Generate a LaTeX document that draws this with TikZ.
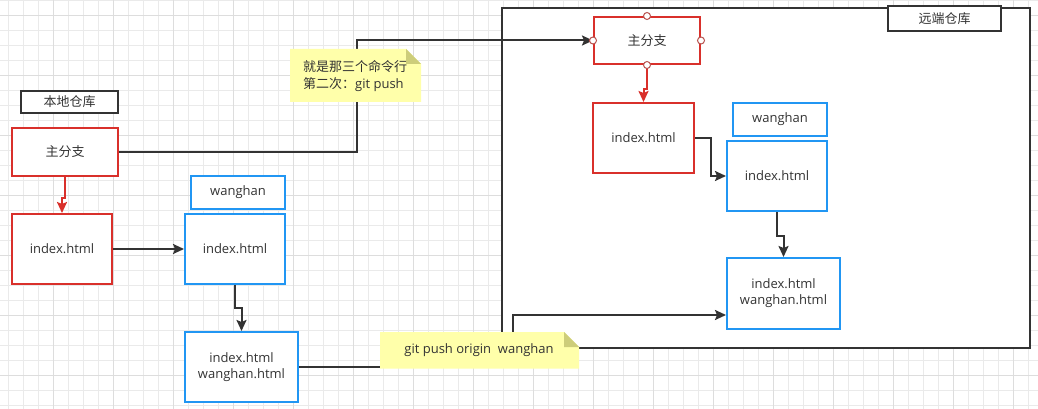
\documentclass[tikz,border=0pt]{standalone}
\usepackage{fontspec}
\setmainfont{Open Sans}
\newfontfamily\cjk{Noto Sans CJK SC}
\usetikzlibrary{arrows.meta,calc}

\definecolor{ink}{HTML}{333333}
\definecolor{redline}{HTML}{D9302B}
\definecolor{blueline}{HTML}{2196F3}
\definecolor{notefill}{HTML}{FFFFAA}
\definecolor{notefold}{HTML}{CDCD7A}
\definecolor{gridlight}{HTML}{EAEAEA}
\definecolor{gridheavy}{HTML}{DDDDDD}
\definecolor{portred}{HTML}{B85450}

\tikzset{
  box/.style={draw, line width=2pt, fill=white, inner sep=0pt, align=center, text=ink},
  redbox/.style={box, draw=redline},
  bluebox/.style={box, draw=blueline},
  blackbox/.style={box, draw=ink},
  link/.style={draw=ink, line width=2pt, -{Stealth[length=11pt,width=10pt,inset=2pt]}},
  redlink/.style={link, draw=redline},
  notebody/.style={fill=notefill},
  notecorner/.style={fill=notefold},
  port/.style={draw=portred, fill=white, line width=1pt},
  gridline/.style={line width=1pt},
}

\begin{document}
\begin{tikzpicture}[x=1pt, y=-1pt, font=\fontsize{13}{17}\selectfont]
\useasboundingbox (0,0) rectangle (1038,409);
\fill[white] (0,0) rectangle (1038,409);

% background grid
\foreach \x in {8.5,23.5,...,1028.5} \draw[gridline, gridlight] (\x,0) -- (\x,409);
\foreach \y in {0.5,15.5,...,405.5} \draw[gridline, gridlight] (0,\y) -- (1038,\y);
\foreach \x in {53.5,113.5,...,1013.5} \draw[gridline, gridheavy] (\x,0) -- (\x,409);
\foreach \y in {15.5,75.5,...,375.5} \draw[gridline, gridheavy] (0,\y) -- (1038,\y);

% remote repository frame
\node[blackbox, minimum width=528pt, minimum height=340pt] (remote) at (766,178) {};
\node[blackbox, minimum width=113pt, minimum height=25pt] (rrepo) at (944.5,18.5) {\cjk 远端仓库};

% local repository
\node[blackbox, minimum width=97pt, minimum height=22pt] (lrepo) at (69.5,102) {\cjk 本地仓库};
\node[redbox, minimum width=106pt, minimum height=48pt] (lmain) at (65,152) {\cjk 主分支};
\node[redbox, minimum width=100pt, minimum height=70pt] (lidx) at (62,249) {index.html};
\node[bluebox, minimum width=94pt, minimum height=33pt] (lwh) at (238,192.5) {wanghan};
\node[bluebox, minimum width=100pt, minimum height=70pt] (lbidx) at (235,249) {index.html};
\node[bluebox, minimum width=113pt, minimum height=70pt, font=\fontsize{13}{16}\selectfont] (lboth) at (241.5,367) {index.html\\wanghan.html};

% remote branches
\node[redbox, minimum width=106pt, minimum height=47pt] (rmain) at (647,40.5) {\cjk 主分支};
\node[redbox, minimum width=101pt, minimum height=70pt] (ridx) at (643.5,138) {index.html};
\node[bluebox, minimum width=94pt, minimum height=33pt] (rwh) at (780,119.5) {wanghan};
\node[bluebox, minimum width=100pt, minimum height=70pt] (rbidx) at (777,176) {index.html};
\node[bluebox, minimum width=113pt, minimum height=71pt, font=\fontsize{13}{16}\selectfont] (rboth) at (783.5,293.5) {index.html\\wanghan.html};

% connectors
\draw[redlink] (lmain.south) -- ++(0,21) -| (lidx.north);
\draw[link] (lidx.east) -- (lbidx.west);
\draw[link] (lbidx.south) -- ++(0,23) -| (lboth.north);
\draw[link] (lboth.east) -- ++(214,0) |- ([yshift=-21.5pt]rboth.west);
\draw[link] (lmain.east) -- ++(238,0) |- (rmain.west);
\draw[redlink] (rmain.south) -- ++(0,24) -| (ridx.north);
\draw[link] (ridx.east) -- ++(16,0) |- (rbidx.west);
\draw[link] (rbidx.south) -- ++(0,24) -| (rboth.north);

% connection points of the remote main branch
\foreach \a in {north,south,east,west} \draw[port] (rmain.\a) circle (3.5);

% notes (sticky-note shape with folded corner)
\fill[notebody] (290,49) -- (406,49) -- (421,64) -- (421,102) -- (290,102) -- cycle;
\fill[notecorner] (406,49) -- (421,64) -- (406,64) -- cycle;
\node[anchor=west, align=left, inner sep=0pt, text=ink] (note1) at (303,76.5)
  {{\cjk 就是那三个命令行}\\{\cjk 第二次：}git push};

\fill[notebody] (380,332) -- (564,332) -- (579,347) -- (579,368.5) -- (380,368.5) -- cycle;
\fill[notecorner] (564,332) -- (579,347) -- (564,347) -- cycle;
\node[inner sep=0pt, text=ink] (note2) at (479,350) {git push origin~~wanghan};
\end{tikzpicture}
\end{document}
